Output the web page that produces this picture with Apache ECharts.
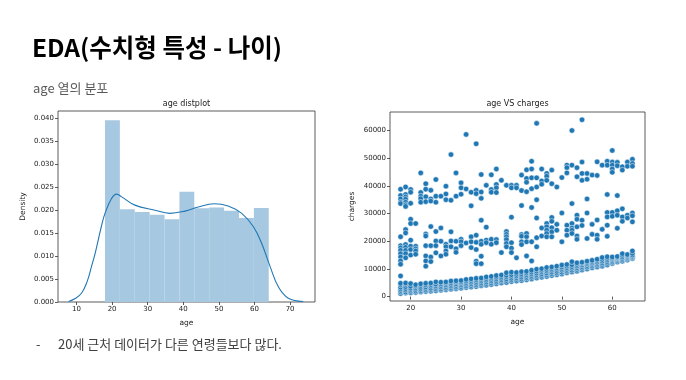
<!DOCTYPE html>
<html><head><meta charset="utf-8">
<script src="https://cdn.jsdelivr.net/npm/echarts@6/dist/echarts.min.js"></script>
<style>html,body{margin:0;padding:0;background:#fff}#c{width:686px;height:380px}</style>
</head><body><div id="c"></div>
<script>
// Histogram (age distplot)
const binEdges = [18, 22.18, 26.36, 30.55, 34.73, 38.91, 43.09, 47.27, 51.45, 55.64, 59.82, 64];
const binDensity = [0.0396, 0.0202, 0.0196, 0.0190, 0.0180, 0.0240, 0.0204, 0.0206, 0.0199, 0.0183, 0.0205];
// KDE curve
const kdeAge = [7.8, 9.5, 11.4, 13, 14.2, 15.2, 16.1, 17, 18, 19.8, 21.25, 22.7, 26.4, 32, 36.2, 40.5, 44.2, 48.7, 52.6, 56.4, 59.7, 62, 64.4, 66.7, 69.5, 73.7];
const kdeDensity = [0.0001, 0.0007, 0.0019, 0.0045, 0.0077, 0.0105, 0.0135, 0.0165, 0.0193, 0.0225, 0.0235, 0.0229, 0.0211, 0.0200, 0.0193, 0.0198, 0.0207, 0.0214, 0.0209, 0.0193, 0.0164, 0.0128, 0.0077, 0.0033, 0.0008, 0.0001];
const histXTicks = [10, 20, 30, 40, 50, 60, 70];
const histYTicks = [0, 0.005, 0.01, 0.015, 0.02, 0.025, 0.03, 0.035, 0.04];

// Scatter (age VS charges)
const ages = [18,19,20,21,22,23,24,25,26,27,28,29,30,31,32,33,34,35,36,37,38,39,40,41,42,43,44,45,46,47,48,49,50,51,52,53,54,55,56,57,58,59,60,61,62,63,64];
const upperCharges = [
  [38800,36500,35300,34100,33600,21600,18400,17600,16700,15500,14300,12900,11700,7470],
  [39600,36900,36000,35200,34100,33200,32600,24200,23000,18800,17800,16700,15500,14000],
  [38700,37700,33700,27950,26400,20400,18200,17000,15000],
  [26400,18200,17300,16500,15300],
  [44700,37600,36300,35400,34100],
  [40800,38800,36100,34300,22600,21900,18400,14700,12900,11000],
  [38400,35300,34500,25300,18400,14300,12650],
  [42300,36300,34100,23500,20100,18400,15800],
  [36300,24800,20000,14700],
  [39900,37100,35000,18900,18000,16500,15300],
  [51300,34800,23400,20100,18000],
  [44700,36300,20000,17300,16000],
  [41100,39300,37000,20700,19800,18400],
  [58600,38900,19400],
  [37700,32800,21600,19800,17700],
  [55200,38400,37200,22200,19600,17000,12800,11900],
  [44100,37800,35500,27600,20000,18900,14600,11900],
  [40200,25100,20400,19500],
  [44000,38700,37700,20700,18900],
  [46100,40500,39300,37600,20600,19500],
  [42000,15900],
  [40200,23500,22500,21600,20600,19200,18000],
  [40200,39300,28700,19500,17500,15900],
  [40200,39300,14000],
  [43900,38300,32900,22400,21800,19800,18800],
  [45800,42700,41300,37900,22800,21600,19800,14700],
  [48900,46100,42900,39000,32200,19800,12900],
  [62600,42900,39600,35000,28400,21300,18000],
  [46100,41800,40600,24800,21900],
  [44500,43500,42000,26400,25200,24000,22800,21600],
  [45700,40800,28600,27200,24900,23400,21600],
  [39600,26100,24000],
  [43000,30200,19800],
  [47500,46600,44700,25800,24000,22200],
  [60000,47500,33600,26400,24800,24000,22800],
  [46600,43300,29400,27950,25200,21900,20700],
  [63900,48600,44500,42000,27600,25700],
  [44500,42400,35300,30200,21000],
  [43900,26100,22500],
  [48700,43800,27700,22200,20700],
  [47500,24300],
  [48900,47500,36900,30400,28800,25800,21800],
  [52800,48600,47500,46100,44900,30400,29000],
  [48500,47300,36500,31000,29400,24700],
  [46900,45700,31700,28800,27200],
  [48600,47100,29400,28400],
  [49600,48100,47100,30200,29200,27000]
];
const lowerCharges = [
  [1120,1700,2200,2800,3400,4200,4800],
  [1260,1650,2300,2900,3600,4400,4900],
  [1390,1900,2500,3000,3700,4700],
  [1520,2000,2600,3200,3800,4300],
  [1660,2100,2700,3300,4000,4600],
  [1820,2300,2900,3500,4200,4800],
  [1970,2500,3000,3700,4300,4900],
  [2140,2700,3300,3900,4500,5300],
  [2300,2800,3400,4000,4600,5200],
  [2480,3000,3600,4200,4800,5300],
  [2690,3200,3800,4400,5000,5600],
  [2870,3400,4000,4600,5200,5700],
  [3060,3600,4200,4800,5300,5800],
  [3260,3800,4400,5000,5600,6200],
  [3440,4000,4600,5200,5800,6400],
  [3630,4200,4800,5400,6000,6600],
  [3900,4400,5000,5600,6200,6700],
  [4120,4700,5300,5900,6500,7100],
  [4400,5000,5600,6200,6800,7300],
  [4600,5200,5800,6400,7000,7600],
  [4900,5500,6000,6600,7200,7800],
  [5130,5800,6400,7100,7700,8600],
  [5420,6000,6600,7300,7900,8800],
  [5600,6200,6800,7400,8000,8700],
  [5800,6400,7000,7700,8300,9000],
  [6100,6700,7300,7900,8500,9100],
  [6400,7000,7600,8200,8800,9500],
  [6700,7300,7900,8500,9200,9900],
  [7000,7600,8200,8900,9500,10100],
  [7300,7900,8500,9200,9800,10500],
  [7600,8200,8800,9500,10100,10700],
  [7900,8500,9100,9800,10400,11000],
  [8200,8800,9500,10100,10700,11400],
  [8600,9200,9800,10400,11000,11600],
  [8900,9500,10200,10800,11500,12600],
  [9200,9800,10400,11000,11600,12200],
  [9600,10200,10800,11400,12000,12400],
  [10000,10600,11200,11800,12300,12800],
  [10400,11000,11600,12100,12600,13100],
  [10700,11300,11900,12400,13000,13500],
  [11000,11600,12200,12800,13400,14100],
  [11400,12000,12600,13200,13800,14400],
  [12000,12500,13000,13500,13900,14300],
  [12500,13000,13500,13900,14200,14500],
  [12800,13300,13800,14300,14900,15500],
  [13200,13700,14100,14500,14900,15200],
  [13800,14200,14600,15000,15600,16500]
];
const scatXTicks = [20, 30, 40, 50, 60];
const scatYTicks = [0, 10000, 20000, 30000, 40000, 50000, 60000];

// ---- build options ----
const histData = binDensity.map((d, i) => [binEdges[i], binEdges[i + 1], d]);
const kdeData = kdeAge.map((a, i) => [a, kdeDensity[i]]);
const scatData = [];
ages.forEach((a, i) => {
  lowerCharges[i].forEach(c => scatData.push([a, c]));
  upperCharges[i].forEach(c => scatData.push([a, c]));
});

const axFont = 'DejaVu Sans';
const lab = { fontSize: 7, color: '#222', fontFamily: axFont, margin: 4 };
const tick = { show: true, inside: false, length: 3, lineStyle: { color: '#333', width: 0.8 } };
const nameStyle = { fontSize: 7.5, color: '#222', fontFamily: axFont };

const chart = echarts.init(document.getElementById('c'), null, { renderer: 'canvas' });
chart.setOption({
  animation: false,
  backgroundColor: '#fff',
  graphic: [
    { type: 'text', x: 32, y: 47.5, style: { text: 'EDA(수치형 특성 - 나이)', font: 'bold 24.5px "Noto Sans CJK KR"', fill: '#000', textVerticalAlign: 'middle' } },
    { type: 'text', x: 33, y: 88, style: { text: 'age 열의 분포', font: '13px "Noto Sans CJK KR"', fill: '#595959', textVerticalAlign: 'middle' } },
    { type: 'text', x: 186.5, y: 103.5, style: { text: 'age distplot', font: '8px "DejaVu Sans"', fill: '#222', textAlign: 'center', textVerticalAlign: 'middle' } },
    { type: 'text', x: 517.5, y: 103.5, style: { text: 'age VS charges', font: '8px "DejaVu Sans"', fill: '#222', textAlign: 'center', textVerticalAlign: 'middle' } },
    { type: 'text', x: 36, y: 344, style: { text: '-', font: '13px "Noto Sans CJK KR"', fill: '#404040', textVerticalAlign: 'middle' } },
    { type: 'text', x: 58, y: 344, style: { text: '20세 근처 데이터가 다른 연령들보다 많다.', font: '13px "Noto Sans CJK KR"', fill: '#404040', textVerticalAlign: 'middle' } }
  ],
  grid: [
    { left: 58, top: 111, width: 257, height: 191, show: true, borderColor: '#333', borderWidth: 0.8, backgroundColor: 'transparent' },
    { left: 390, top: 112, width: 255, height: 189, show: true, borderColor: '#333', borderWidth: 0.8, backgroundColor: 'transparent' }
  ],
  xAxis: [
    { type: 'value', gridIndex: 0, min: 4.8, max: 77, name: 'age', nameLocation: 'middle', nameGap: 17, nameTextStyle: nameStyle,
      axisLine: { show: false }, splitLine: { show: false },
      axisTick: Object.assign({ customValues: histXTicks }, tick),
      axisLabel: Object.assign({ customValues: histXTicks }, lab) },
    { type: 'value', gridIndex: 1, min: 15.9, max: 66.5, name: 'age', nameLocation: 'middle', nameGap: 17, nameTextStyle: nameStyle,
      axisLine: { show: false }, splitLine: { show: false },
      axisTick: Object.assign({ customValues: scatXTicks }, tick),
      axisLabel: Object.assign({ customValues: scatXTicks }, lab) }
  ],
  yAxis: [
    { type: 'value', gridIndex: 0, min: 0, max: 0.0416, name: 'Density', nameLocation: 'middle', nameGap: 31, nameRotate: 90, nameTextStyle: nameStyle,
      axisLine: { show: false }, splitLine: { show: false },
      axisTick: Object.assign({ customValues: histYTicks }, tick),
      axisLabel: Object.assign({ customValues: histYTicks, formatter: v => v.toFixed(3) }, lab) },
    { type: 'value', gridIndex: 1, min: -1590, max: 66700, name: 'charges', nameLocation: 'middle', nameGap: 34, nameRotate: 90, nameTextStyle: nameStyle,
      axisLine: { show: false }, splitLine: { show: false },
      axisTick: Object.assign({ customValues: scatYTicks }, tick),
      axisLabel: Object.assign({ customValues: scatYTicks, formatter: v => String(Math.round(v)) }, lab) }
  ],
  series: [
    { type: 'custom', xAxisIndex: 0, yAxisIndex: 0, data: histData, encode: { x: [0, 1], y: 2 }, z: 1,
      renderItem: function (params, api) {
        const p0 = api.coord([api.value(0), api.value(2)]);
        const p1 = api.coord([api.value(1), 0]);
        return { type: 'rect', shape: { x: p0[0], y: p0[1], width: p1[0] - p0[0], height: p1[1] - p0[1] }, style: { fill: '#a6c8e0' } };
      } },
    { type: 'line', xAxisIndex: 0, yAxisIndex: 0, data: kdeData, smooth: 0.4, showSymbol: false, z: 3,
      lineStyle: { color: '#1f77b4', width: 1.1 } },
    { type: 'scatter', xAxisIndex: 1, yAxisIndex: 1, data: scatData, symbolSize: 5.5,
      itemStyle: { color: '#1f77b4', borderColor: '#ffffff', borderWidth: 0.5, opacity: 1 } }
  ]
});
</script>
</body></html>
